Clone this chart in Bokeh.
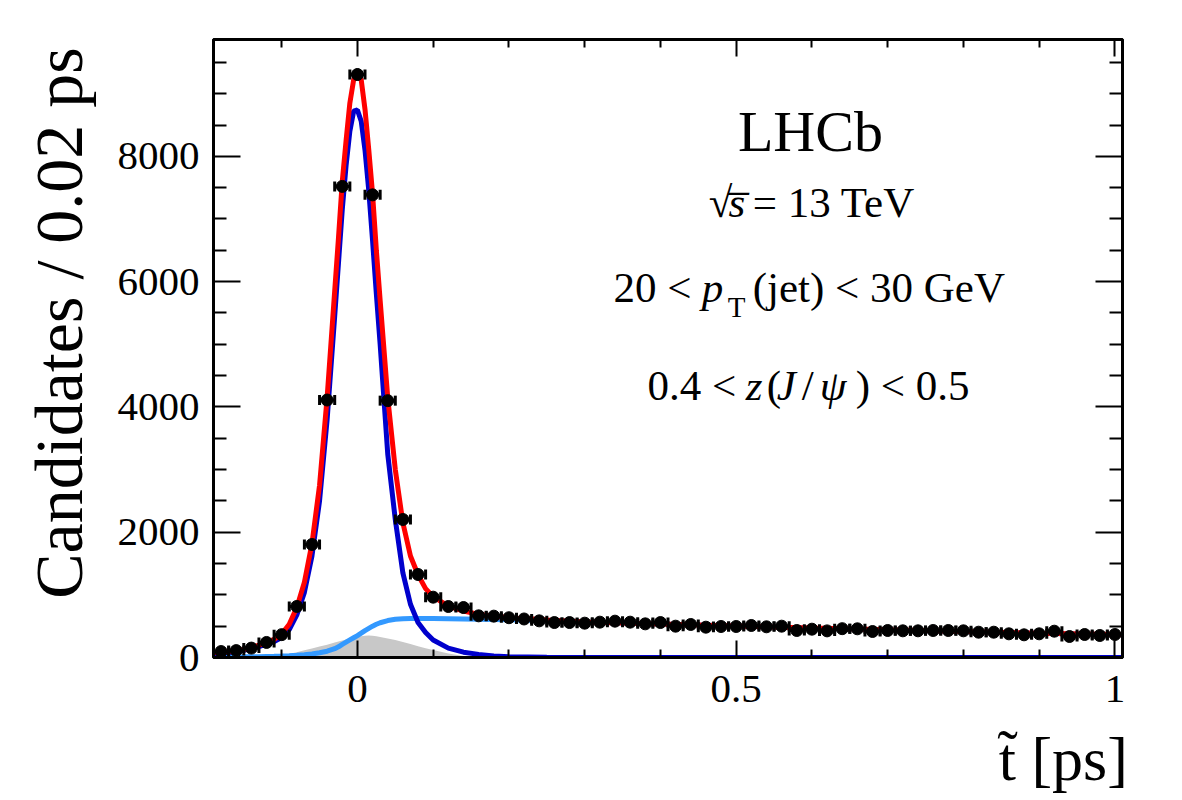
import math
from bokeh.plotting import figure
from bokeh.models import Range1d, LinearAxis, FixedTicker, Label, NumeralTickFormatter
from bokeh.embed import file_html
from bokeh.resources import INLINE

# ---- data: histogram (bin centres, counts) ----
t_centers = [-0.18, -0.16, -0.14, -0.12, -0.10, -0.08, -0.06, -0.04, -0.02, 0.00,
             0.02, 0.04, 0.06, 0.08, 0.10, 0.12, 0.14, 0.16, 0.18, 0.20,
             0.22, 0.24, 0.26, 0.28, 0.30, 0.32, 0.34, 0.36, 0.38, 0.40,
             0.42, 0.44, 0.46, 0.48, 0.50, 0.52, 0.54, 0.56, 0.58, 0.60,
             0.62, 0.64, 0.66, 0.68, 0.70, 0.72, 0.74, 0.76, 0.78, 0.80,
             0.82, 0.84, 0.86, 0.88, 0.90, 0.92, 0.94, 0.96, 0.98, 1.00]
counts = [95, 110, 150, 240, 365, 815, 1804, 4110, 7520, 9306,
          7385, 4100, 2203, 1325, 963, 814, 798, 665, 660, 635,
          615, 585, 558, 558, 548, 564, 580, 564, 537, 558,
          500, 527, 484, 495, 495, 511, 490, 500, 431, 452,
          425, 460, 458, 415, 431, 426, 426, 431, 431, 426,
          404, 404, 378, 362, 378, 420, 335, 367, 351, 367]
bin_half_width = 0.01

# ---- fit curves sampled at t_curve ----
t_curve = [-0.19, -0.17, -0.15, -0.13, -0.11, -0.10, -0.09, -0.08, -0.07, -0.06,
           -0.05, -0.04, -0.03, -0.025, -0.02, -0.015, -0.01, -0.005, 0.0, 0.005,
           0.01, 0.015, 0.02, 0.025, 0.03, 0.04, 0.05, 0.06, 0.07, 0.08,
           0.09, 0.10, 0.12, 0.14, 0.16, 0.18, 0.20, 0.25, 0.30, 0.40,
           0.50, 0.60, 0.70, 0.80, 0.90, 1.00, 1.01]
total_fit = [75, 95, 130, 195, 290, 375, 530, 800, 1200, 1820,
             2750, 4150, 5850, 6700, 7600, 8250, 8850, 9220, 9330, 9220,
             8750, 8100, 7400, 6500, 5700, 4150, 3000, 2150, 1620, 1320,
             1100, 970, 820, 740, 690, 660, 638, 598, 568, 535,
             503, 470, 441, 414, 389, 366, 364]
prompt = [60, 80, 115, 175, 255, 320, 445, 680, 1040, 1620,
          2500, 3800, 5450, 6300, 7150, 7850, 8400, 8720, 8740, 8560,
          8100, 7450, 6650, 5800, 5000, 3250, 2200, 1350, 850, 560,
          400, 280, 150, 85, 50, 25, 12, 3, 1, 0,
          0, 0, 0, 0, 0, 0, 0]
nonprompt = [8, 9, 10, 13, 18, 22, 28, 35, 44, 55,
             75, 100, 140, 170, 210, 245, 280, 315, 350, 390,
             430, 465, 500, 530, 555, 590, 610, 618, 621, 622,
             622, 622, 620, 616, 611, 606, 601, 585, 565, 533,
             502, 468, 439, 412, 387, 364, 362]
background = [0, 0, 2, 6, 20, 35, 58, 85, 115, 145,
              175, 205, 238, 255, 272, 287, 302, 316, 330, 340,
              348, 350, 346, 338, 328, 305, 278, 248, 215, 180,
              148, 118, 62, 22, 5, 0, 0, 0, 0, 0,
              0, 0, 0, 0, 0, 0, 0]

x_major = [0, 0.5, 1]
x_minor = [-0.1, 0.1, 0.2, 0.3, 0.4, 0.6, 0.7, 0.8, 0.9]
y_major = [0, 2000, 4000, 6000, 8000]
y_minor = [500, 1000, 1500, 2500, 3000, 3500, 4500, 5000, 5500, 6500, 7000, 7500, 8500, 9000, 9500]

FONT = "Liberation Serif"
NBSP = "\u00a0"

p = figure(width=1182, height=800, output_backend="svg", toolbar_location=None,
           x_range=Range1d(-0.19, 1.01), y_range=Range1d(0, 9865),
           min_border_left=213, min_border_right=60, min_border_top=39, min_border_bottom=143,
           background_fill_color="white", border_fill_color="white")
p.xgrid.visible = False
p.ygrid.visible = False
p.outline_line_color = "black"
p.outline_line_width = 3

# components
p.varea(x=t_curve, y1=[0] * len(t_curve), y2=background, fill_color="#c8c8c8")
p.line(t_curve, nonprompt, line_color="#3399ff", line_width=5)
p.line(t_curve, prompt, line_color="#0000cc", line_width=5)
p.line(t_curve, total_fit, line_color="#ff0000", line_width=5)

# data points with error bars
x_lo = [t - bin_half_width for t in t_centers]
x_hi = [t + bin_half_width for t in t_centers]
y_err = [math.sqrt(c) for c in counts]
p.segment(x0=x_lo, x1=x_hi, y0=counts, y1=counts, line_color="black", line_width=3)
p.segment(x0=t_centers, x1=t_centers, y0=[c - e for c, e in zip(counts, y_err)],
          y1=[c + e for c, e in zip(counts, y_err)], line_color="black", line_width=3)
p.scatter(x_lo + x_hi, counts + counts, marker="dash", angle=math.pi / 2, size=10,
          line_color="black", line_width=3)
p.scatter(t_centers, counts, size=12, color="black")

# axes
def style_axis(ax, ticks, minors, tin, min_in, labels=True):
    ax.ticker = FixedTicker(ticks=ticks, minor_ticks=minors)
    ax.major_tick_in = tin
    ax.major_tick_out = 0
    ax.minor_tick_in = min_in
    ax.minor_tick_out = 0
    ax.major_tick_line_width = 2
    ax.minor_tick_line_width = 2
    ax.axis_line_width = 3
    ax.major_label_text_font = FONT
    ax.major_label_text_font_size = "41px"
    ax.major_label_text_color = "black"
    if not labels:
        ax.major_label_overrides = {t: "" for t in ticks}

xa = p.xaxis[0]
ya = p.yaxis[0]
style_axis(xa, x_major, x_minor, 17, 8)
style_axis(ya, y_major, y_minor, 27, 13)
xa.formatter = NumeralTickFormatter(format="0.[0]")
xa.major_label_standoff = 18
ya.major_label_standoff = 14

def style_title(ax, text, size, standoff):
    ax.axis_label = text
    ax.axis_label_text_font = FONT
    ax.axis_label_text_font_size = size
    ax.axis_label_text_font_style = "normal"
    ax.axis_label_text_color = "black"
    ax.axis_label_standoff = standoff

# leading no-break spaces shift the centred titles toward the axis ends, as in the reference
style_title(ya, NBSP * 3 + "Candidates / 0.02 ps", "68px", 18)
style_title(xa, NBSP * 51 + "t\u0303 [ps]", "62px", 20)

top = LinearAxis()
style_axis(top, x_major, x_minor, 17, 8, labels=False)
p.add_layout(top, "above")
right = LinearAxis()
style_axis(right, y_major, y_minor, 27, 13, labels=False)
p.add_layout(right, "right")

# annotation text
def txt(x, y, s, size=43, style="normal", align="left"):
    p.add_layout(Label(x=x, y=y, text=s, text_align=align, text_baseline="alphabetic",
                       text_font=FONT, text_font_size=f"{size}px", text_font_style=style,
                       text_color="black"))

txt(0.598, 8396, "LHCb", size=58, align="center")
txt(0.4637, 7263, "\u221a")
txt(0.4900, 7263, "s\u0305", style="italic")
txt(0.5220, 7263, "= 13 TeV")
txt(0.3382, 5906, "20 <")
txt(0.4544, 5906, "p", style="italic")
txt(0.4888, 5587, "T", size=29)
txt(0.5218, 5906, "(jet) < 30 GeV")
txt(0.3831, 4342, "0.4 <")
txt(0.5125, 4342, "z", style="italic")
txt(0.5403, 4342, "(")
txt(0.5535, 4342, "J", style="italic")
txt(0.5865, 4342, "/")
txt(0.6103, 4342, "\u03c8", style="italic")
txt(0.6579, 4342, ") < 0.5")

open("out.html", "w").write(file_html(p, INLINE))
